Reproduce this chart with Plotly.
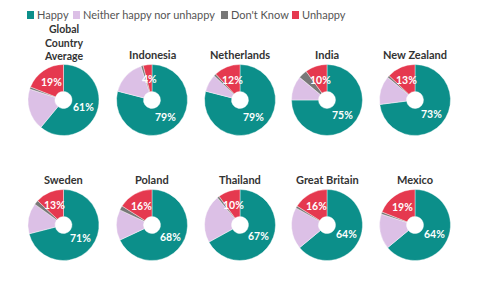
import math
import plotly.graph_objects as go

countries = ["Global<br>Country<br>Average", "Indonesia", "Netherlands", "India", "New Zealand",
             "Sweden", "Poland", "Thailand", "Great Britain", "Mexico"]
categories = ["Happy", "Neither happy nor unhappy", "Don't Know", "Unhappy"]
happy    = [61, 79, 79, 75, 73, 71, 68, 67, 64, 64]
neither  = [19, 16, 8, 11, 13, 14, 14, 22, 19, 16]
dontknow = [1, 1, 1, 4, 1, 2, 2, 1, 1, 1]
unhappy  = [19, 4, 12, 10, 13, 13, 16, 10, 16, 19]
colors = ["#0c8f8a", "#dcc0e6", "#787878", "#e5394f"]

W, H = 480, 293
cxs = [63.5, 152, 240, 327, 415]
cys = [100, 225]
R = 35.5
HOLE = 0.24
RT = 21.5  # label radius (mid ring)

fig = go.Figure()
for i, c in enumerate(countries):
    row, col = divmod(i, 5)
    cx, cy = cxs[col], cys[row]
    vals = [happy[i], neither[i], dontknow[i], unhappy[i]]
    tot = sum(vals)
    fig.add_trace(go.Pie(
        labels=categories, values=vals, textinfo="none",
        sort=False, direction="clockwise", rotation=0, hole=HOLE,
        marker=dict(colors=colors, line=dict(color="white", width=0.4)),
        domain=dict(x=[(cx - R) / W, (cx + R) / W], y=[(H - cy - R) / H, (H - cy + R) / H]),
        showlegend=False, hoverinfo="label+percent",
    ))
    # percentage labels at the middle of the Happy and Unhappy slices
    for v, mid in ((happy[i], happy[i] / 2), (unhappy[i], tot - unhappy[i] / 2)):
        a = 2 * math.pi * mid / tot
        tx = cx + RT * math.sin(a)
        ty = cy - RT * math.cos(a)
        fig.add_annotation(x=tx / W, y=(H - ty) / H, xref="paper", yref="paper",
                           text=f"{v}%", showarrow=False, xanchor="center", yanchor="middle",
                           font=dict(size=10.5, color="white", family="Lato", weight="bold"))
    # titles
    nlines = c.count("<br>") + 1
    ty0 = cy - 45.5 if nlines == 1 else cy - 58
    fig.add_annotation(x=cx / W, y=(H - ty0) / H, xref="paper", yref="paper",
                       text=c, showarrow=False, xanchor="center", yanchor="middle",
                       font=dict(size=10.5 if nlines > 1 else 11, color="#333333",
                                 family="Lato", weight="bold"))

# legend (small squares + labels)
leg_x = [27, 73, 221, 292]
for k, cat in enumerate(categories):
    x0 = leg_x[k]
    fig.add_shape(type="rect", xref="paper", yref="paper",
                  x0=x0 / W, x1=(x0 + 7) / W, y0=(H - 19) / H, y1=(H - 11) / H,
                  fillcolor=colors[k], line=dict(width=0))
    fig.add_annotation(x=(x0 + 8) / W, y=(H - 15) / H, xref="paper", yref="paper",
                       text=cat, showarrow=False, xanchor="left", yanchor="middle",
                       font=dict(size=11, color="#555555", family="Lato"))

fig.update_layout(
    width=W, height=H, margin=dict(l=0, r=0, t=0, b=0),
    paper_bgcolor="white", plot_bgcolor="white", showlegend=False,
)
fig.write_html("out.html")
